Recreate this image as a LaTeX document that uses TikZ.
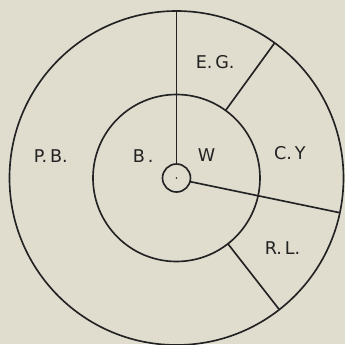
\documentclass[tikz,border=0pt]{standalone}
\usepackage{xcolor}
\usepackage{fontspec}
\setmainfont{DejaVu Sans}
\usepackage{tikz}
\usetikzlibrary{positioning}
\definecolor{paper}{HTML}{E0DCCE}
\definecolor{ink}{HTML}{222222}
\tikzset{
  ring/.style={
    circle,
    draw=ink,
    line width=1.4pt,
    inner sep=0pt,
    outer sep=0pt
  },
  tag/.style={
    font=\fontsize{15}{17}\selectfont,
    text=ink,
    inner sep=1pt
  },
  spoke/.style={draw=ink, line width=1.4pt}
}

\begin{document}
\begin{tikzpicture}

\fill[paper] (-5.295,-4.98) rectangle (5.055,5.34);
\useasboundingbox (-5.295,-4.98) rectangle (5.055,5.34);

\node[ring, minimum size=10.02cm] (outer) at (0,0) {};
\node[ring, minimum size=5.01cm] (inner) at (0,0) {};
\node[ring, minimum size=0.84cm] (hub) at (0,0) {};
\fill[ink] (hub.center) circle (0.7pt);

\node[tag] (pb) at (-3.77,0.66) {P.\,B.};
\node[tag] (b) at (-1.0,0.66) {B\,.};
\node[tag] (w) at (0.9,0.70) {W};
\node[tag] (eg) at (1.16,3.47) {E.\,G.};
\node[tag] (cy) at (3.4,0.75) {C.\,Y};
\node[tag] (rl) at (3.18,-2.09) {R.\,L.};

\draw[spoke] (hub.90) -- (outer.90);
\draw[spoke] (inner.54.5) -- (outer.54.5);
\draw[spoke] (hub.-15) -- (outer.-12);
\draw[spoke] (inner.-52) -- (outer.-52);

\end{tikzpicture}
\end{document}
